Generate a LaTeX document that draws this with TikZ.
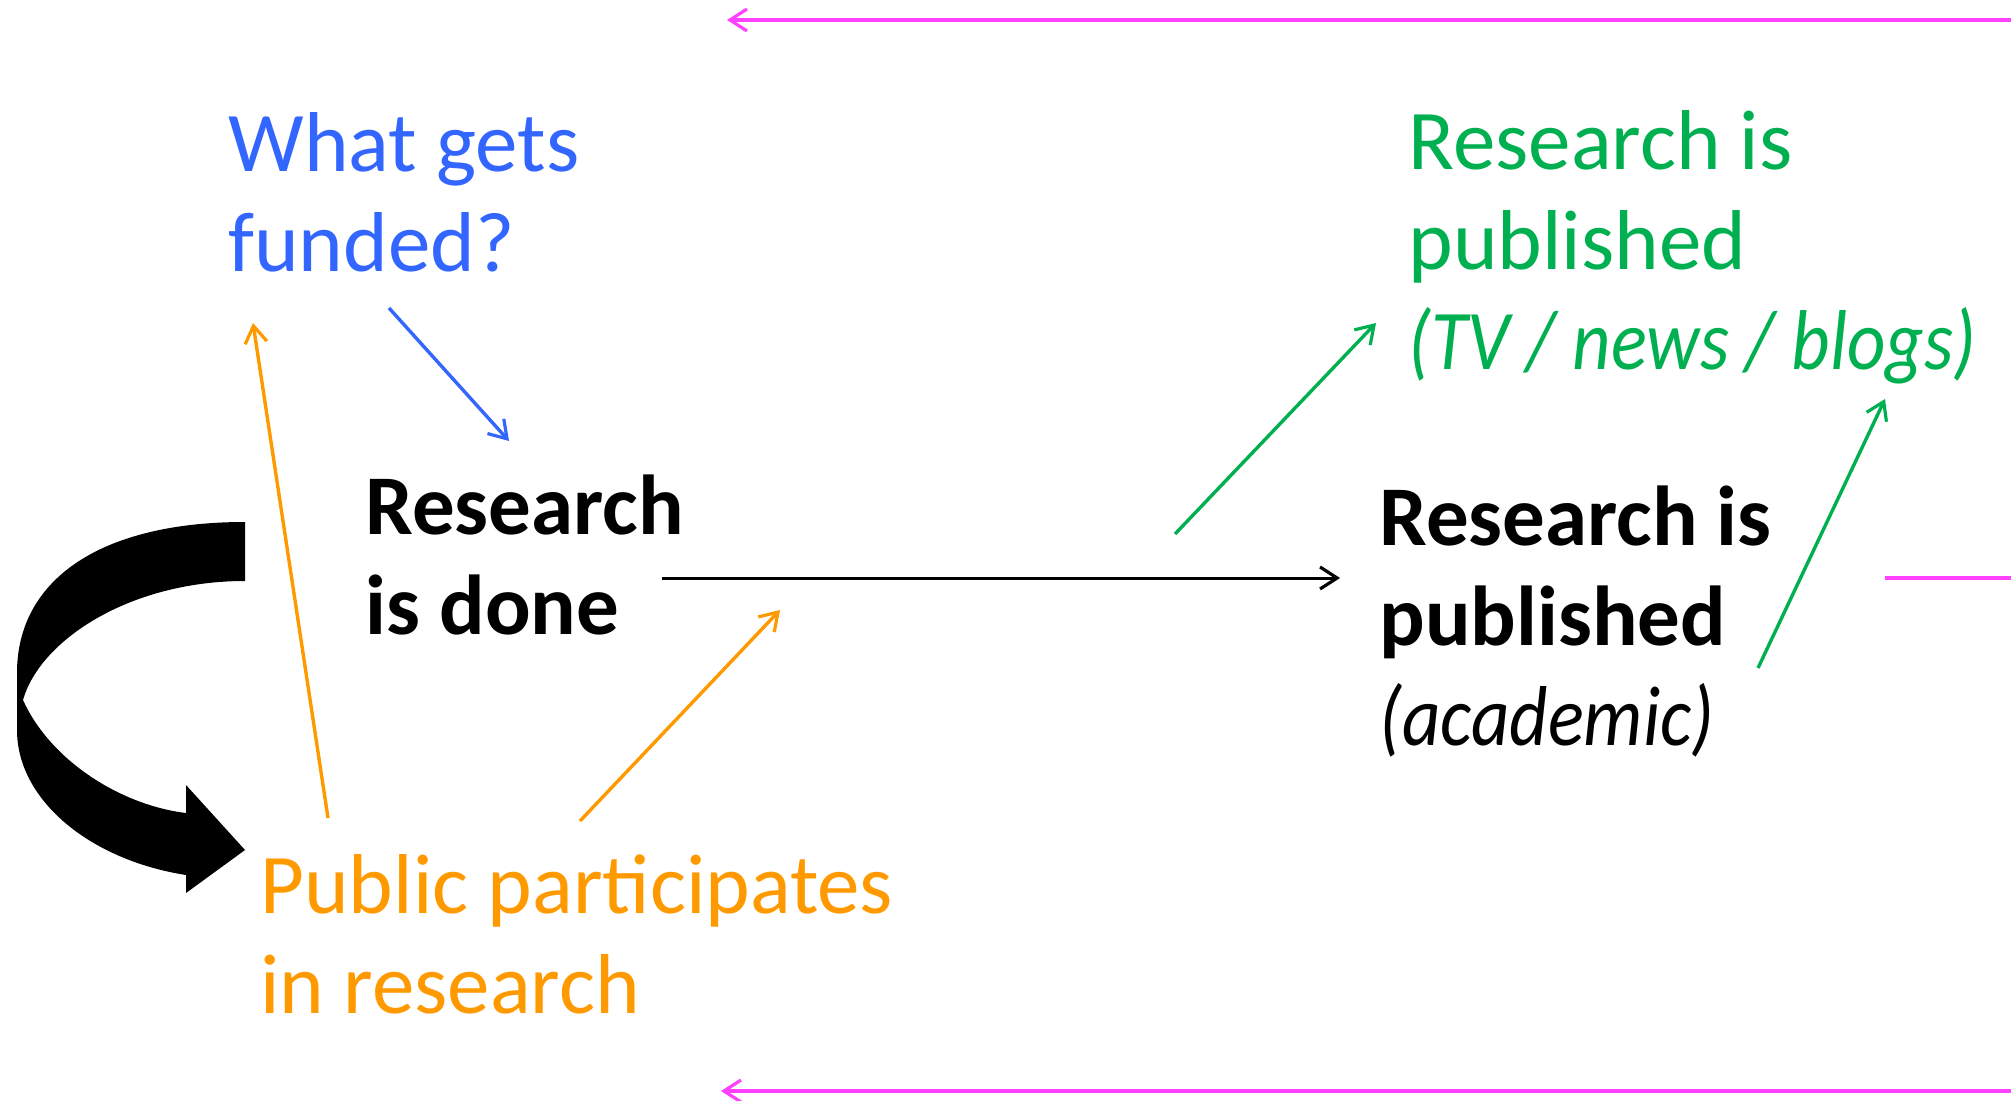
\documentclass[tikz,border=0pt]{standalone}
\usepackage{fontspec}
\setmainfont{Carlito}
\usetikzlibrary{arrows.meta}
\definecolor{fundblue}{HTML}{3366FF}
\definecolor{pubgreen}{HTML}{00B050}
\definecolor{partorange}{HTML}{FF9900}
\definecolor{loopmag}{HTML}{FF40FF}
\newcommand{\narrowit}[1]{\scalebox{0.88}[1]{\itshape #1}}
\tikzset{
  lbl/.style={anchor=base west, inner sep=0pt, align=left, font=\fontsize{42.5}{50}\selectfont},
  conn/.style={line width=1.7pt, -{Straight Barb[length=8.5pt,width=11pt,line width=1.6pt]}},
  magline/.style={line width=2pt, loopmag},
}
\begin{document}
\begin{tikzpicture}[x=0.5pt,y=-0.5pt]
\useasboundingbox (0,0) rectangle (2011,1101);
% texts (anchored at the baseline of their last line)
\node[lbl, text=fundblue] (fund) at (228,272) {What gets\\funded?};
\node[lbl, text=pubgreen] (media) at (1408,370) {Research is\\published\\\narrowit{(TV / news / blogs)}};
\node[lbl, font=\fontsize{42.5}{50}\selectfont\bfseries] (done) at (365,634) {Research\\is done};
\node[lbl, font=\fontsize{42.5}{50}\selectfont\bfseries] (acad) at (1379,745) {Research is\\published\\\mdseries\narrowit{(academic)}};
\node[lbl, text=partorange] (public) at (260,1013) {Public participates\\in research};
% endpoints
\coordinate (b1) at (389,308); \coordinate (b2) at (509,441);
\coordinate (o1a) at (328,818); \coordinate (o1b) at (253,323);
\coordinate (o2a) at (580,821); \coordinate (o2b) at (780,610);
\coordinate (k1) at (662,578); \coordinate (k2) at (1340,578);
\coordinate (g1a) at (1175,534); \coordinate (g1b) at (1376,323);
\coordinate (g2a) at (1758,668); \coordinate (g2b) at (1885,399);
\coordinate (mta) at (2011,20); \coordinate (mtb) at (727,20);
\coordinate (mma) at (1885,578); \coordinate (mmb) at (2011,578);
\coordinate (mba) at (2011,1091); \coordinate (mbb) at (721,1091);
% connectors
\draw[conn, fundblue] (b1) -- (b2);
\draw[conn, partorange] (o1a) -- (o1b);
\draw[conn, partorange] (o2a) -- (o2b);
\draw[conn, black, line width=1.5pt] (k1) -- (k2);
\draw[conn, pubgreen] (g1a) -- (g1b);
\draw[conn, pubgreen] (g2a) -- (g2b);
\draw[conn, loopmag, line width=2pt] (mta) -- (mtb);
\draw[magline] (mma) -- (mmb);
\draw[conn, loopmag, line width=2pt] (mba) -- (mbb);
% big curved arrow
\fill[black] (245,522) .. controls (100,522) and (17,580) .. (17,673) -- (17,730)
  .. controls (17,800) and (90,860) .. (186,875) -- (186,893) -- (245,850) -- (186,785) -- (186,813)
  .. controls (120,805) and (50,760) .. (23,700)
  .. controls (40,640) and (130,581) .. (245,581) -- cycle;
\end{tikzpicture}
\end{document}
